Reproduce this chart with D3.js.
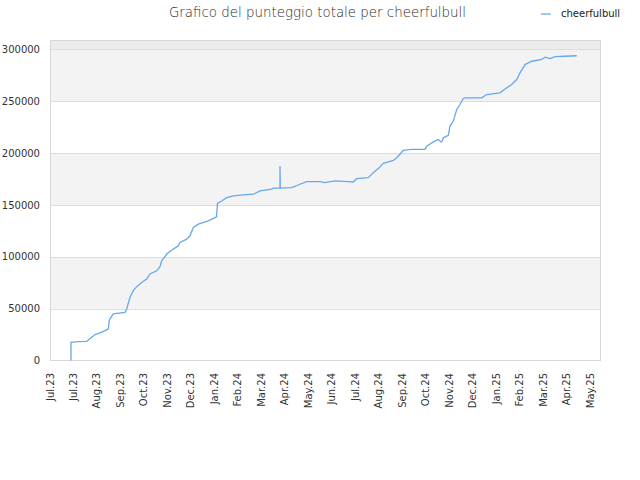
<!DOCTYPE html>
<html><head><meta charset="utf-8">
<script src="https://cdn.jsdelivr.net/npm/d3@7/dist/d3.min.js"></script>
<style>
html,body{margin:0;padding:0;background:#fff;}
svg{display:block;font-family:"DejaVu Sans",sans-serif;}
</style></head>
<body>
<svg id="c" width="640" height="480"></svg>
<script>
// ---- data ----
const title = "Grafico del punteggio totale per cheerfulbull";
const seriesName = "cheerfulbull";
const xLabels = ["Jul.23","Jul.23","Aug.23","Sep.23","Oct.23","Nov.23","Dec.23","Jan.24","Feb.24","Mar.24","Apr.24","May.24","Jun.24","Jul.24","Aug.24","Sep.24","Oct.24","Nov.24","Dec.24","Jan.25","Feb.25","Mar.25","Apr.25","May.25"];
const yTicks = [0,50000,100000,150000,200000,250000,300000];
const yMax = 308500;
// position along the label axis (label index units)
const xPos = [0.894,0.894,1.193,1.563,1.776,1.917,2.130,2.343,2.483,2.526,2.696,3.194,3.267,3.407,3.548,3.693,3.906,4.119,4.259,4.545,4.685,4.758,4.971,5.252,5.465,5.537,5.822,5.963,6.104,6.317,6.742,7.028,7.092,7.134,7.313,7.526,7.807,8.233,8.659,8.945,9.443,9.511,9.796,9.796,9.809,10.295,10.648,10.934,11.500,11.713,12.139,12.706,12.918,13.063,13.557,13.770,13.983,14.196,14.622,14.767,15.048,15.406,15.972,16.045,16.326,16.539,16.658,16.709,16.752,16.965,17.037,17.178,17.323,17.463,17.604,17.676,18.387,18.601,19.167,19.380,19.665,19.878,20.019,20.232,20.517,20.943,21.084,21.297,21.509,21.935,22.434];
const scores = [0,17500,18200,18500,22400,25000,26600,28800,30400,39100,44900,46400,49700,60900,67300,71200,75300,78600,83400,86500,90400,96200,102600,107400,110600,113800,117000,120200,128200,131400,134600,137800,138500,151500,153800,157000,158700,159600,160300,163500,165100,166100,166100,187500,166200,166700,169900,172500,172500,171500,173100,172400,172100,175300,176300,181100,185000,190000,192900,195500,202500,203500,203500,206700,210800,213100,210700,211500,214700,217000,226000,230800,242000,246800,252600,253200,253200,256400,258000,261800,266100,270900,277300,285300,288500,290200,292400,291100,293000,293300,293800];

// ---- layout ----
const svg = d3.select("#c");
const L = 50.5, R = 600.5, T = 40.5, B = 360.5;
const x = d3.scaleLinear().domain([0, xLabels.length - 1]).range([50, 590]);
const y = d3.scaleLinear().domain([0, yMax]).range([B, T]);

// bands
const bandEdges = yTicks.concat([yMax]);
for (let i = 0; i < bandEdges.length - 1; i++) {
  const fill = i === bandEdges.length - 2 ? "#ececec" : (i % 2 === 1 ? "#f3f3f3" : "#ffffff");
  svg.append("rect").attr("x", L).attr("width", R - L)
    .attr("y", y(bandEdges[i + 1])).attr("height", y(bandEdges[i]) - y(bandEdges[i + 1]))
    .attr("fill", fill);
}
// grid
svg.append("g").selectAll("line").data(yTicks.slice(1)).join("line")
  .attr("x1", L).attr("x2", R)
  .attr("y1", d => Math.round(y(d)) + 0.5).attr("y2", d => Math.round(y(d)) + 0.5)
  .attr("stroke", "#dddddd").attr("stroke-width", 1);
// border
svg.append("rect").attr("x", L).attr("y", T).attr("width", R - L).attr("height", B - T)
  .attr("fill", "none").attr("stroke", "#d8d8d8").attr("stroke-width", 1);

// y axis
const yAxis = d3.axisLeft(y).tickValues(yTicks).tickSize(0).tickPadding(0).tickFormat(d => String(d));
const gy = svg.append("g").attr("transform", "translate(40,0)").call(yAxis);
gy.select(".domain").remove();
gy.selectAll("text").attr("font-size", 10).attr("font-family", "DejaVu Sans").attr("fill", "#333");

// x axis
const xAxis = d3.axisBottom(x).tickValues(d3.range(xLabels.length)).tickSize(0).tickFormat(i => xLabels[i]);
const gx = svg.append("g").attr("transform", "translate(0,373)").call(xAxis);
gx.select(".domain").remove();
gx.selectAll("text").attr("font-size", 10).attr("font-family", "DejaVu Sans").attr("fill", "#333")
  .attr("text-anchor", "end").attr("transform", "rotate(-90)")
  .attr("x", 0).attr("y", 0).attr("dy", "0.35em");
gx.selectAll(".tick").attr("transform", d => `translate(${x(d)},0)`);

// line
const pts = xPos.map((p, i) => [p, scores[i]]);
svg.append("path").datum(pts)
  .attr("fill", "none").attr("stroke", "#66a8f0").attr("stroke-width", 1.3)
  .attr("stroke-linejoin", "miter")
  .attr("d", d3.line().x(d => x(d[0])).y(d => y(d[1])));

// title
svg.append("text").attr("x", 317.5).attr("y", 17).attr("text-anchor", "middle")
  .attr("font-size", 13.4).attr("font-weight", 200).attr("fill", "#2a2a2a").text(title);

// legend
svg.append("line").attr("x1", 541).attr("x2", 551).attr("y1", 14).attr("y2", 14)
  .attr("stroke", "#9cc8f5").attr("stroke-width", 2);
svg.append("text").attr("x", 561).attr("y", 17).attr("font-size", 10).attr("fill", "#222").text(seriesName);
</script>
</body></html>
